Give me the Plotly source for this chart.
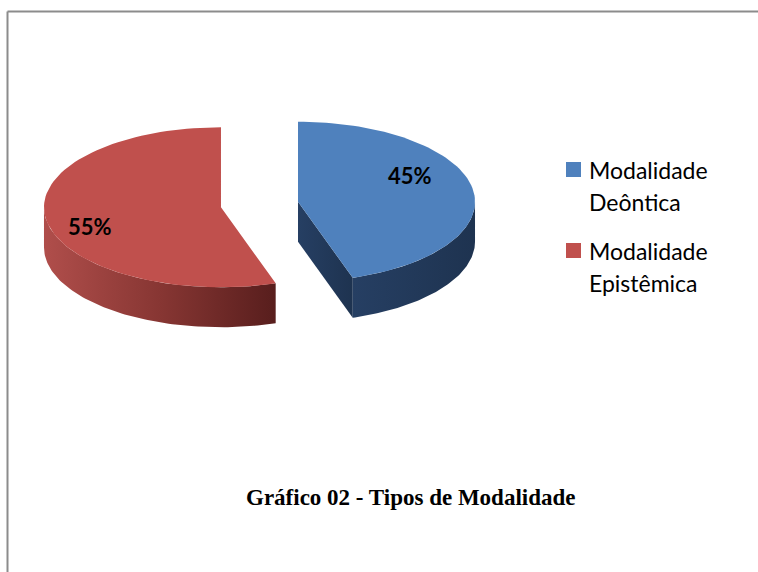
"""Gráfico 02 - Tipos de Modalidade: exploded 3D-style pie drawn with plotly shapes."""

import numpy as np
import plotly.graph_objects as go

# data
categories = ["Modalidade Deôntica", "Modalidade Epistêmica"]
legend_lines = [["Modalidade", "Deôntica"], ["Modalidade", "Epistêmica"]]
shares = [45, 55]

# style
TOP_COLORS = ["#4F81BD", "#C0504D"]
SIDE_SCALES = [
    [[0, "#263F63"], [1, "#1E3350"]],
    [[0, "#B04E4B"], [0.5, "#873633"], [1, "#581E1D"]],
]
FONT_SANS = "Lato, 'Open Sans', sans-serif"
FONT_SERIF = "'Liberation Serif', 'Times New Roman', serif"

W, H = 758, 572
CX, CY = 259.5, 204.5      # pie centre (pixels)
RX, RY = 177.0, 80.0       # top ellipse radii
DEPTH = 40.0               # thickness of the disc
EXPLODE = 39.0             # pull of each slice
LABEL_FRAC = 0.65
LABEL_NUDGE = [(-2, -18), (-17, 11)]


def ell(cx, cy, theta, r=1.0):
    """Point on the top ellipse, theta clockwise from 12 o'clock (degrees)."""
    t = np.radians(theta)
    return cx + RX * r * np.sin(t), cy - RY * r * np.cos(t)


fig = go.Figure()

total = float(sum(shares))
start = 0.0
tops, sides, labels = [], [], []
for i, (cat, val) in enumerate(zip(categories, shares)):
    sweep = 360.0 * val / total
    end = start + sweep
    mid = np.radians(start + sweep / 2)
    sx = CX + EXPLODE * np.sin(mid)
    sy = CY - EXPLODE * np.cos(mid) * RY / RX

    # top face
    th = np.linspace(start, end, 90)
    ax, ay = ell(sx, sy, th)
    tops.append(([sx, *ax, sx], [sy, *ay, sy], TOP_COLORS[i]))

    # radial cut faces that look towards the viewer
    for edge, normal in ((start, start - 90), (end, end + 90)):
        if np.cos(np.radians(normal)) < -0.05:
            ex, ey = ell(sx, sy, edge)
            sides.append(([sx, ex, ex, sx, sx],
                          [sy, ey, ey + DEPTH, sy + DEPTH, sy], i))

    # outer wall, front half only
    a, b = max(start, 90.0), min(end, 270.0)
    if b > a:
        tw = np.linspace(a, b, 90)
        wx, wy = ell(sx, sy, tw)
        sides.append(([*wx, *wx[::-1], wx[0]],
                      [*wy, *(wy[::-1] + DEPTH), wy[0]], i))

    lx, ly = ell(sx, sy, np.degrees(mid), LABEL_FRAC)
    labels.append((lx + LABEL_NUDGE[i][0], ly + LABEL_NUDGE[i][1],
                   f"{val / total * 100:.0f}%"))
    start = end

for xs, ys, i in sides:
    fig.add_trace(go.Scatter(
        x=xs, y=ys, mode="lines", fill="toself",
        line=dict(width=0), hoverinfo="skip", showlegend=False,
        fillgradient=dict(type="horizontal", colorscale=SIDE_SCALES[i]),
    ))

for (xs, ys, col), cat in zip(tops, categories):
    fig.add_trace(go.Scatter(
        x=xs, y=ys, mode="lines", fill="toself", fillcolor=col,
        line=dict(width=0), name=cat, hoverinfo="name", showlegend=False,
    ))

for lx, ly, txt in labels:
    fig.add_annotation(x=lx, y=ly, text=f"<b>{txt}</b>", showarrow=False,
                       font=dict(family=FONT_SANS, size=22, color="black"))

# legend (drawn by hand to get Office-like line spacing)
LEG_X, LEG_Y, LEG_STEP, LINE_STEP = 566, 169.5, 81, 32.5
for k, lines in enumerate(legend_lines):
    y0 = LEG_Y + k * LEG_STEP
    fig.add_shape(type="rect", x0=LEG_X, x1=LEG_X + 15, y0=y0 - 7.5, y1=y0 + 7.5,
                  fillcolor=TOP_COLORS[k], line=dict(width=0))
    for j, line in enumerate(lines):
        fig.add_annotation(x=LEG_X + 21, y=y0 + j * LINE_STEP, text=line,
                           xanchor="left", yanchor="middle", showarrow=False,
                           font=dict(family=FONT_SANS, size=23, color="black"))

# title
fig.add_annotation(x=410, y=497, text="<b>Gráfico 02 - Tipos de Modalidade</b>",
                   showarrow=False,
                   font=dict(family=FONT_SERIF, size=23, color="black"))

# chart frame: only the left and top edges fall inside the page
frame = dict(color="#8C8C8C", width=2)
fig.add_shape(type="line", x0=7.5, y0=11.5, x1=7.5, y1=H + 40, line=frame)
fig.add_shape(type="line", x0=7.5, y0=11.5, x1=W + 40, y1=11.5, line=frame)

fig.update_layout(
    width=W, height=H,
    margin=dict(l=0, r=0, t=0, b=0),
    paper_bgcolor="white", plot_bgcolor="white",
    xaxis=dict(range=[0, W], visible=False, fixedrange=True),
    yaxis=dict(range=[H, 0], visible=False, fixedrange=True),
    showlegend=False,
)

fig.write_html(
    "out.html", config={"displayModeBar": False},
    post_script="document.body.style.margin='0px';"
                "document.body.style.overflow='hidden';",
)
